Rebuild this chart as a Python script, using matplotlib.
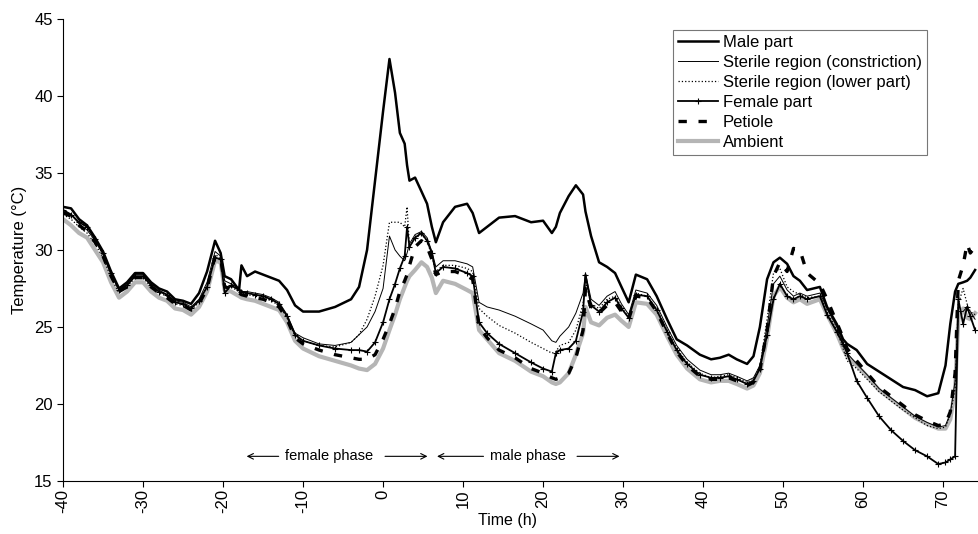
import matplotlib.pyplot as plt

plt.rcParams['font.family'] = ['Liberation Sans', 'DejaVu Sans']
plt.rcParams['axes.unicode_minus'] = False

# time grid (h)
hours = [-40, -39, -38, -37, -36, -35, -34, -33, -32, -31, -30, -29, -28, -27, -26, -25, -24, -23, -22, -21,
         -20.3, -19.8, -19, -18, -17.7, -17, -16, -15, -14, -13, -12, -11, -10,
         -8, -6, -4, -3, -2, -1, 0, 0.8, 1.5, 2.1, 2.7, 3.0, 3.3, 4.0, 4.8, 5.5, 6.1, 6.6, 7.5, 9, 10.5, 11.2,
         12, 13, 14.5, 16.5, 18.5, 20, 21.1, 21.6, 22.1, 23.2, 24.1, 25.0, 25.3, 26.0, 27, 28, 29, 29.8, 30.7, 31.6, 33, 34.2,
         35.5, 36.7, 38, 39.6, 41, 42.1, 43.2, 44.2, 45.5, 46.3, 47.1, 48, 48.8, 49.6, 50.5, 51.3, 52.1, 53, 54.6, 55.5, 56.7, 57.5,
         58, 59.2, 60.5, 62, 63.5, 65, 66.5, 68, 69.4, 70.3, 70.9, 71.5, 71.9, 72.5, 73, 73.4, 74]

male = [32.8, 32.7, 32.0, 31.6, 30.8, 29.9, 28.6, 27.5, 27.9, 28.5, 28.5, 27.9, 27.5, 27.3, 26.8, 26.7, 26.5, 27.2, 28.6, 30.6,
        29.8, 28.3, 28.1, 27.4, 29.0, 28.3, 28.6, 28.4, 28.2, 28.0, 27.4, 26.4, 26.0,
        26.0, 26.3, 26.8, 27.6, 30.0, 34.5, 39.0, 42.4, 40.2, 37.6, 36.9, 35.5, 34.5, 34.7, 33.8, 33.0, 31.5, 30.5, 31.8, 32.8, 33.0, 32.4,
        31.1, 31.5, 32.1, 32.2, 31.8, 31.9, 31.1, 31.5, 32.4, 33.5, 34.2, 33.6, 32.5, 30.9, 29.2, 28.9, 28.5, 27.6, 26.6, 28.4, 28.1, 27.0,
        25.5, 24.2, 23.8, 23.2, 22.9, 23.0, 23.2, 22.9, 22.6, 23.1, 25.0, 28.1, 29.2, 29.5, 29.1, 28.3, 28.0, 27.4, 27.6, 26.3, 25.2, 24.2,
        23.9, 23.5, 22.6, 22.1, 21.6, 21.1, 20.9, 20.5, 20.7, 22.5, 25.2, 27.3, 27.8, 27.9, 28.0, 28.2, 28.7]

sterile_constriction = [32.5, 32.3, 31.7, 31.3, 30.6, 29.7, 28.4, 27.4, 27.8, 28.4, 28.4, 27.8, 27.4, 27.1, 26.7, 26.6, 26.3, 26.8, 27.9, 29.9,
        29.6, 28.0, 27.8, 27.5, 27.3, 27.3, 27.2, 27.1, 26.9, 26.6, 25.8, 24.6, 24.3,
        23.9, 23.8, 24.0, 24.5, 25.0, 26.0, 27.5, 30.9, 30.0, 29.6, 29.3, 29.8, 30.4, 31.0, 31.2, 30.8, 29.9, 28.9, 29.3, 29.3, 29.1, 28.9,
        26.6, 26.3, 26.1, 25.7, 25.2, 24.8, 24.1, 24.0, 24.4, 25.0, 25.9, 27.2, 28.5, 26.8, 26.4, 27.0, 27.3, 26.5, 25.8, 27.4, 27.2, 26.4,
        25.0, 23.8, 22.9, 22.2, 21.9, 21.9, 22.0, 21.8, 21.5, 21.7, 22.5, 25.0, 27.8, 28.3, 27.4, 27.0, 27.2, 27.0, 27.2, 26.2, 25.0, 24.0,
        23.3, 22.6, 21.9, 21.0, 20.4, 19.8, 19.2, 18.8, 18.5, 18.6, 19.4, 21.5, 26.0, 26.0, 26.3, 26.0, 25.5]

sterile_lower = [32.3, 32.0, 31.5, 31.1, 30.4, 29.5, 28.2, 27.2, 27.6, 28.2, 28.2, 27.6, 27.2, 27.0, 26.5, 26.4, 26.1, 26.6, 27.7, 29.7,
        29.5, 27.7, 27.6, 27.3, 27.2, 27.1, 27.0, 26.9, 26.7, 26.4, 25.6, 24.4, 24.1,
        23.8, 23.7, 24.0, 24.5, 25.5, 27.0, 29.0, 31.8, 31.8, 31.8, 31.5, 32.8, 30.2, 30.8, 31.0, 30.6, 29.6, 28.6, 29.0, 29.0, 28.8, 28.6,
        26.2, 25.7, 25.1, 24.6, 24.0, 23.6, 23.3, 23.4, 23.8, 24.0, 24.8, 26.5, 28.0, 26.5, 26.2, 26.8, 27.0, 26.3, 25.6, 27.2, 27.0, 26.2,
        24.8, 23.6, 22.7, 22.0, 21.7, 21.8, 21.9, 21.7, 21.4, 21.6, 22.4, 25.5, 28.5, 28.8, 27.6, 27.3, 27.1, 26.9, 27.0, 26.0, 24.8, 23.6,
        22.8, 22.3, 21.6, 20.8, 20.2, 19.6, 19.1, 18.6, 18.4, 18.5, 19.3, 21.0, 26.5, 27.5, 26.5, 26.0, 25.8]

female = [32.6, 32.3, 31.8, 31.5, 30.7, 29.8, 28.5, 27.4, 27.7, 28.3, 28.3, 27.7, 27.3, 27.1, 26.6, 26.5, 26.2, 26.7, 27.6, 29.5,
        29.4, 27.2, 27.7, 27.4, 27.3, 27.2, 27.1, 27.0, 26.8, 26.5, 25.7, 24.5, 24.1,
        23.8, 23.6, 23.5, 23.5, 23.4, 24.0, 25.3, 26.8, 27.8, 28.8, 29.6, 31.5, 30.2, 30.8, 31.1, 30.6, 29.8, 28.5, 28.9, 28.8, 28.5, 28.3,
        25.3, 24.6, 23.9, 23.3, 22.7, 22.3, 22.1, 23.3, 23.5, 23.6, 24.1, 26.0, 28.4, 26.4, 26.0, 26.6, 26.9, 26.2, 25.6, 27.1, 27.0, 26.1,
        24.7, 23.5, 22.6, 21.9, 21.7, 21.7, 21.8, 21.6, 21.3, 21.5, 22.3, 24.5, 26.8, 27.8, 27.0, 26.8, 27.0, 26.8, 27.0, 25.8, 24.7, 23.9,
        23.3, 21.5, 20.4, 19.2, 18.3, 17.6, 17.0, 16.6, 16.1, 16.2, 16.4, 16.6, 26.8, 25.2, 26.3, 25.7, 24.8]

petiole = [32.4, 32.2, 31.6, 31.2, 30.5, 29.6, 28.3, 27.3, 27.6, 28.2, 28.2, 27.6, 27.2, 26.9, 26.5, 26.4, 26.1, 26.5, 27.5, 29.6,
        29.5, 27.6, 27.5, 27.2, 27.1, 27.0, 26.9, 26.8, 26.6, 26.3, 25.5, 24.3, 23.9,
        23.5, 23.2, 23.0, 22.9, 22.9, 23.2, 24.2, 25.2, 26.2, 27.3, 28.0, 28.4, 29.0, 30.2, 30.6, 30.2, 29.4, 28.4, 28.6, 28.6, 28.3, 28.1,
        25.0, 24.3, 23.5, 23.0, 22.3, 22.0, 21.7, 21.6, 21.7, 22.0, 23.0, 24.8, 27.5, 26.2, 25.9, 26.4, 26.6, 26.0, 25.5, 27.0, 26.9, 26.0,
        24.6, 23.4, 22.5, 21.8, 21.6, 21.6, 21.7, 21.5, 21.2, 21.4, 22.2, 24.8, 28.3, 29.2, 28.6, 30.1, 30.0, 28.5, 27.8, 26.8, 25.3, 24.3,
        23.6, 22.8, 22.0, 21.1, 20.5, 19.9, 19.3, 18.9, 18.6, 18.7, 19.5, 22.0, 28.0, 29.0, 30.4, 29.8, 30.2]

ambient = [32.0, 31.6, 31.1, 30.8, 30.0, 29.2, 27.9, 26.9, 27.3, 27.9, 27.9, 27.3, 26.9, 26.7, 26.2, 26.1, 25.8, 26.3, 27.3, 29.3,
        29.2, 27.4, 27.3, 27.0, 26.9, 26.8, 26.7, 26.5, 26.3, 26.1, 25.3, 24.1, 23.6,
        23.1, 22.8, 22.5, 22.3, 22.2, 22.6, 23.6, 24.8, 25.8, 26.8, 27.6, 28.0, 28.3, 28.7, 29.2, 28.9, 28.2, 27.2, 28.0, 27.8, 27.4, 27.2,
        24.8, 24.2, 23.3, 22.8, 22.1, 21.8, 21.4, 21.3, 21.4, 22.0, 23.2, 24.6, 26.3, 25.3, 25.1, 25.6, 25.8, 25.4, 25.0, 26.6, 26.5, 25.8,
        24.4, 23.2, 22.3, 21.6, 21.4, 21.5, 21.5, 21.3, 21.0, 21.2, 22.0, 24.3, 27.0, 27.6, 26.9, 26.6, 26.8, 26.5, 26.8, 25.8, 24.6, 23.6,
        23.1, 22.5, 21.8, 20.9, 20.3, 19.7, 19.1, 18.7, 18.4, 18.4, 19.0, 20.9, 25.5, 26.2, 25.6, 25.5, 25.9]

fig = plt.figure(figsize=(9.79, 5.34), dpi=100)
ax = fig.add_axes([0.0644, 0.0993, 0.9357, 0.8652])

h_amb, = ax.plot(hours, ambient, color='#b5b5b5', lw=3, label='Ambient')
h_pet, = ax.plot(hours, petiole, color='black', lw=2.4, dashes=(2.5, 3.5), label='Petiole')
h_fem, = ax.plot(hours, female, color='black', lw=1.3, marker='+', ms=4, mew=0.8, label='Female part')
h_sl, = ax.plot(hours, sterile_lower, color='black', lw=0.9, ls=':', label='Sterile region (lower part)')
h_sc, = ax.plot(hours, sterile_constriction, color='black', lw=0.7, label='Sterile region (constriction)')
h_male, = ax.plot(hours, male, color='black', lw=1.8, label='Male part')

ax.set_xlim(-40, 74.5)
ax.set_ylim(15, 45)
ax.set_xticks(range(-40, 71, 10))
ax.set_yticks(range(15, 46, 5))
ax.tick_params(axis='x', labelrotation=90, labelsize=12, direction='out', length=4, pad=2)
ax.tick_params(axis='y', labelsize=12, direction='out', length=4)
ax.spines['top'].set_visible(False)
ax.spines['right'].set_visible(False)
ax.set_ylabel('Temperature (°C)', fontsize=12, labelpad=5)
ax.set_xlabel('Time (h)', fontsize=11.5, labelpad=0)
ax.xaxis.label.set_x(0.485)

# phase annotations
y_ph = 16.6
arrow = dict(arrowstyle='->', color='black', lw=0.8)
ax.annotate('', xy=(-17.4, y_ph), xytext=(-12.7, y_ph), arrowprops=arrow)
ax.text(-6.7, y_ph, 'female phase', ha='center', va='center', fontsize=10.5)
ax.annotate('', xy=(5.9, y_ph), xytext=(-0.1, y_ph), arrowprops=arrow)
ax.annotate('', xy=(6.4, y_ph), xytext=(12.9, y_ph), arrowprops=arrow)
ax.text(18.1, y_ph, 'male phase', ha='center', va='center', fontsize=10.5)
ax.annotate('', xy=(29.9, y_ph), xytext=(23.9, y_ph), arrowprops=arrow)

leg = ax.legend(handles=[h_male, h_sc, h_sl, h_fem, h_pet, h_amb],
                loc='upper right', bbox_to_anchor=(0.943, 0.976), borderaxespad=0,
                fontsize=12, frameon=True, fancybox=False, edgecolor='#555555',
                handlelength=2.4, handletextpad=0.3, labelspacing=0.3, borderpad=0.3)
leg.get_frame().set_linewidth(0.8)

plt.savefig('out.png', dpi=100)
